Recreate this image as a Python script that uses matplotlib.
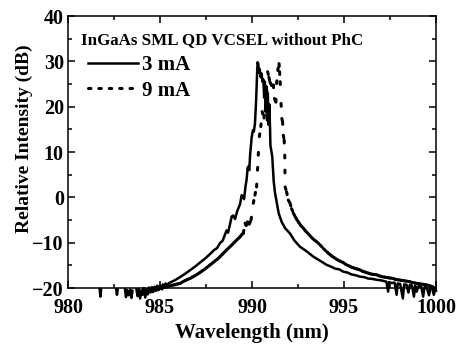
import numpy as np
import matplotlib
matplotlib.use("Agg")
import matplotlib.pyplot as plt
from matplotlib.collections import LineCollection
from matplotlib.lines import Line2D
from matplotlib.ticker import MultipleLocator

nan = float("nan")

# ---------------- data ----------------
title_text = "InGaAs SML QD VCSEL without PhC"
series_labels = ["3 mA", "9 mA"]
x_label = "Wavelength (nm)"
y_label = "Relative Intensity (dB)"

wl_3mA = [
    981.72, 981.76, 981.80, nan,
    982.62, 982.66, 982.70, nan,
    983.10, 983.15, 983.22, 983.30, 983.38, 983.45, 983.50, nan,
    983.72, 983.78, 983.85, 983.92, 984.00, 984.05, 984.12, 984.20, 984.27,
    984.33, 984.40, 984.47, 984.55, 984.62, 984.70, 984.78, 984.85, 984.92,
    985.00, 985.08, 985.15, 985.22, 985.30, 985.40, 985.50,
    985.80, 986.09, 986.35, 986.63, 986.90, 987.17, 987.45, 987.72, 987.95,
    988.10, 988.26, 988.40, 988.53, 988.62, 988.70, 988.80, 988.90, 988.98,
    989.08, 989.20, 989.35, 989.44, 989.52, 989.57, 989.65, 989.71, 989.76,
    989.80, 989.85, 989.90, 989.98, 990.05, 990.10, 990.16, 990.22, 990.27,
    990.30, 990.34, 990.38, 990.42, 990.47, 990.52, 990.57, 990.62, 990.66,
    990.70, 990.74, 990.78, 990.82, 990.86, 990.90, 990.94, 990.98, 991.00,
    991.10, 991.18, 991.25, 991.34, 991.45, 991.61, 991.80, 992.07, 992.30,
    992.61, 993.00, 993.34, 993.70, 994.06, 994.30, 994.50, 994.75, 994.96,
    995.20, 995.40, 995.65, 995.87, 996.10, 996.30, 996.55, 996.78, 997.00,
    997.20, 997.30, 997.40, 997.45, 997.60, 997.75, 997.86, 997.92, 998.05,
    998.20, 998.27, 998.40, 998.50, 998.58, 998.70, 998.80, 998.87, 998.95,
    999.05, 999.20, 999.30, 999.38, 999.50, 999.62, 999.70, 999.80, 999.88,
    999.95, 1000.00,
]
int_3mA = [
    -20.2, -21.9, -20.3, nan,
    -20.3, -21.5, -20.4, nan,
    -20.3, -22.0, -20.5, -21.6, -20.4, -22.2, -20.6, nan,
    -20.3, -21.8, -20.2, -22.3, -20.5, -21.5, -20.0, -22.1, -20.3,
    -21.4, -19.9, -21.0, -19.8, -20.9, -19.7, -20.6, -19.5, -20.4,
    -19.4, -20.2, -19.2, -19.8, -19.0, -19.3, -18.9,
    -18.3, -17.6, -16.9, -16.1, -15.3, -14.4, -13.5, -12.5, -11.6,
    -11.2, -10.1, -9.6, -8.2, -7.3, -7.8, -6.0, -4.2, -4.0,
    -4.8, -3.0, -1.5, 0.5, 0.0, -0.4, 2.5, 4.0, 6.5,
    6.8, 6.0, 9.5, 13.2, 14.8, 14.5, 16.2, 21.0, 26.5,
    29.8, 29.5, 27.5, 28.3, 26.5, 27.3, 25.5, 26.0, 22.0,
    25.5, 19.0, 24.5, 17.0, 23.0, 16.0, 20.5, 15.5, 11.5,
    9.0, 3.5, 1.0, -1.0, -3.5, -5.4, -6.8, -8.0, -9.5,
    -10.9, -12.0, -13.1, -14.0, -14.9, -15.3, -15.7, -15.9, -16.4,
    -16.6, -17.0, -17.2, -17.5, -17.6, -17.9, -18.0, -18.2, -18.3,
    -18.5, -18.6, -20.8, -18.7, -18.9, -18.8, -21.5, -19.0, -19.1,
    -22.3, -19.2, -19.3, -21.0, -19.3, -19.5, -21.9, -19.5, -20.8,
    -19.6, -19.7, -21.9, -19.8, -19.9, -21.6, -20.0, -20.1, -21.5,
    -20.2, -20.6,
]

wl_9mA = [
    984.30, 984.40, 984.50, 984.60, 984.70, 984.80, 984.90, 985.00, 985.10,
    985.20, 985.35, 985.50, 985.65, 985.80, 985.95, 986.09, 986.25, 986.40,
    986.50, 986.63, 986.75, 986.90, 987.05, 987.17, 987.30, 987.45, 987.60,
    987.72, 987.85, 988.00, 988.13, 988.26, 988.38, 988.50, 988.62, 988.75,
    988.88, 989.00, 989.12, 989.25, 989.35, 989.45, 989.53, 989.62, 989.68,
    989.75, 989.85, 989.95, 990.07, 990.16, 990.25, 990.30, 990.34, 990.40,
    990.48, 990.55, 990.65, 990.72, 990.80, 990.85, 990.92, 990.97, 991.05,
    991.16, 991.22, 991.30, 991.34, 991.40, 991.47, 991.50, 991.53, 991.58,
    991.62, 991.66, 991.70, 991.75, 991.78, 991.79, 991.80, 991.88, 991.97,
    992.07, 992.15, 992.25, 992.35, 992.45, 992.55, 992.65, 992.79, 992.90,
    993.05, 993.20, 993.35, 993.52, 993.70, 993.88, 994.06, 994.20, 994.35,
    994.50, 994.65, 994.80, 994.96, 995.10, 995.25, 995.40, 995.55, 995.70,
    995.87, 996.00, 996.15, 996.30, 996.45, 996.60, 996.78, 996.90, 997.05,
    997.20, 997.35, 997.50, 997.68, 997.80, 997.95, 998.10, 998.25, 998.40,
    998.59, 998.70, 998.85, 999.00, 999.15, 999.30, 999.49, 999.65, 999.80,
    1000.00,
]
int_9mA = [
    -21.0, -20.2, -20.8, -20.0, -20.6, -19.9, -20.4, -19.8, -20.2,
    -19.7, -19.8, -19.6, -19.4, -19.3, -19.1, -19.0, -18.6, -18.3,
    -18.1, -17.9, -17.6, -17.3, -16.9, -16.6, -16.2, -15.8, -15.3,
    -14.9, -14.5, -14.0, -13.6, -13.1, -12.6, -12.1, -11.6, -11.1,
    -10.6, -10.1, -9.6, -9.1, -8.7, -8.2, -7.9, -5.7, -6.2,
    -5.4, -5.9, -5.0, -1.3, 0.5, 2.3, 6.0, 9.3, 13.4,
    15.6, 18.9, 17.5, 19.0, 23.0, 27.7, 26.5, 25.5, 24.8,
    24.8, 21.8, 21.0, 25.1, 28.0, 29.5, 27.7, 25.5, 20.7,
    17.4, 16.7, 13.7, 12.6, 9.3, 6.0, 2.3, 1.2, -0.6,
    -1.3, -2.5, -3.5, -4.3, -5.0, -5.6, -6.2, -6.8, -7.4,
    -8.0, -8.7, -9.3, -9.8, -10.5, -11.3, -12.0, -12.5, -13.0,
    -13.4, -13.8, -14.1, -14.4, -14.8, -15.1, -15.4, -15.6, -15.8,
    -16.0, -16.3, -16.5, -16.7, -16.9, -17.0, -17.1, -17.3, -17.5,
    -17.6, -17.7, -17.8, -17.9, -18.1, -18.2, -18.3, -18.4, -18.5,
    -18.6, -18.8, -18.9, -19.0, -19.1, -19.2, -19.3, -19.5, -19.7,
    -20.2,
]

# ---------------- figure ----------------
plt.rcParams["font.family"] = ["Liberation Serif", "DejaVu Serif"]
plt.rcParams["font.weight"] = "bold"

fig = plt.figure(figsize=(4.58, 3.5), dpi=100)
ax = fig.add_axes([68 / 458, 1 - 288 / 350, 368 / 458, 272 / 350])

lw = 1.8
ax.plot(wl_3mA, int_3mA, color="black", lw=lw, solid_joinstyle="round",
        clip_on=False, zorder=3)

# 9 mA: dotted pattern restarting on every data segment (as in the original)
x9 = np.asarray(wl_9mA)
y9 = np.asarray(int_9mA)
pts = np.column_stack([x9, y9])
segs = np.stack([pts[:-1], pts[1:]], axis=1)
lc = LineCollection(segs, colors="black", linewidths=2.2,
                    linestyles=[(0, (0.9, 14.0))], capstyle="round",
                    clip_on=False, zorder=2)
ax.add_collection(lc)

ax.set_xlim(980, 1000)
ax.set_ylim(-20, 40)
ax.xaxis.set_major_locator(MultipleLocator(5))
ax.xaxis.set_minor_locator(MultipleLocator(2.5))
ax.yaxis.set_major_locator(MultipleLocator(10))
ax.yaxis.set_minor_locator(MultipleLocator(5))
ax.tick_params(which="both", direction="in", top=True, right=True,
               labelsize=14.5, width=1.1)
ax.tick_params(which="major", length=5)
ax.tick_params(which="minor", length=3)
ax.tick_params(axis="x", pad=7)
ax.tick_params(axis="y", pad=3)
for lab in ax.get_xticklabels() + ax.get_yticklabels():
    lab.set_fontweight("bold")
for s in ax.spines.values():
    s.set_linewidth(1.1)

ax.set_xlabel(x_label, fontsize=15, fontweight="bold", labelpad=4)
ax.set_ylabel(y_label, fontsize=14, fontweight="bold")
ax.yaxis.set_label_coords(-0.095, 0.548)

ax.text(0.035, 0.912, title_text, transform=ax.transAxes, fontsize=12.2,
        fontweight="bold", ha="left", va="center")

handles = [Line2D([], [], color="black", lw=lw),
           Line2D([], [], color="black", lw=2.2, linestyle=(0, (0.8, 2.6)),
                  dash_capstyle="round")]
ax.legend(handles, series_labels, loc="upper left",
          bbox_to_anchor=(0.033, 0.886), frameon=False,
          handlelength=2.4, handletextpad=0.15, labelspacing=0.25,
          borderaxespad=0.0, prop={"weight": "bold", "size": 15})

fig.savefig("out.png", dpi=100)
